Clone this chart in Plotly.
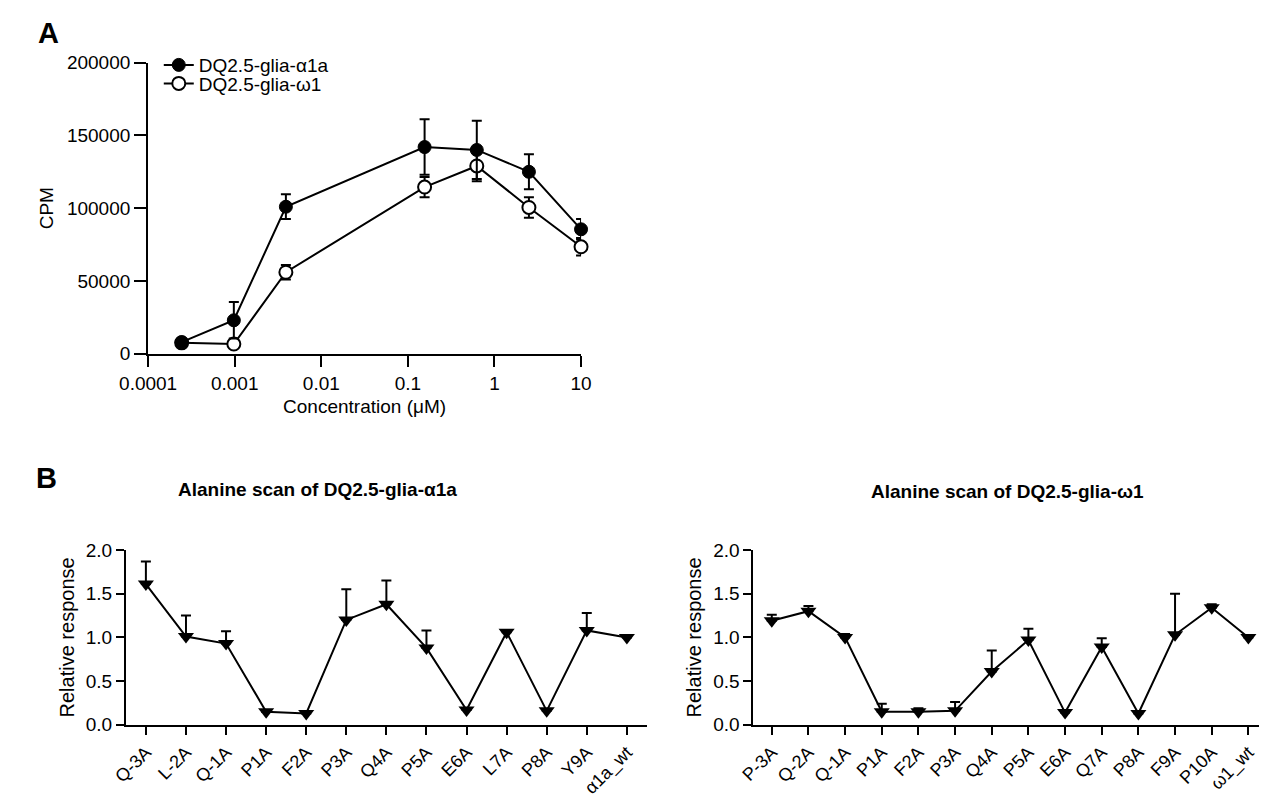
import plotly.graph_objects as go

FONT = "Liberation Sans, Arial, sans-serif"
W, H = 1270, 804

# ---------------- Panel A data ----------------
conc = [0.000244, 0.000977, 0.0039, 0.156, 0.625, 2.5, 10]
alpha_cpm = [8000, 23000, 101000, 142000, 140000, 125000, 85500]
alpha_err = [1500, 12500, 8500, 19000, 20000, 12000, 7000]
omega_cpm = [7500, 6700, 56000, 114500, 129000, 100500, 73500]
omega_err = [1500, 2000, 5000, 7000, 10500, 7000, 6000]
x_tickvals = [0.0001, 0.001, 0.01, 0.1, 1, 10]
x_ticktext = ["0.0001", "0.001", "0.01", "0.1", "1", "10"]
y_tickvals_a = [0, 50000, 100000, 150000, 200000]

# ---------------- Panel B data ----------------
alpha_cats = ["Q-3A", "L-2A", "Q-1A", "P1A", "F2A", "P3A", "Q4A", "P5A",
              "E6A", "L7A", "P8A", "Y9A", "α1a_wt"]
alpha_rel = [1.61, 1.01, 0.93, 0.15, 0.13, 1.20, 1.38, 0.88, 0.17, 1.06, 0.16, 1.08, 1.00]
alpha_rel_err = [0.26, 0.24, 0.14, 0.0, 0.0, 0.35, 0.27, 0.20, 0.0, 0.02, 0.0, 0.20, 0.0]

omega_cats = ["P-3A", "Q-2A", "Q-1A", "P1A", "F2A", "P3A", "Q4A", "P5A",
              "E6A", "Q7A", "P8A", "F9A", "P10A", "ω1_wt"]
omega_rel = [1.19, 1.30, 1.00, 0.15, 0.15, 0.16, 0.61, 0.97, 0.14, 0.89, 0.13, 1.03, 1.34, 1.00]
omega_rel_err = [0.07, 0.06, 0.04, 0.09, 0.04, 0.10, 0.24, 0.13, 0.0, 0.10, 0.0, 0.47, 0.04, 0.0]

def px_x(p):
    return p / W

def px_y(p):
    return 1 - p / H

fig = go.Figure()

fig.add_trace(go.Scatter(
    x=conc, y=omega_cpm, mode="lines+markers", name="DQ2.5-glia-ω1",
    line=dict(color="black", width=2), cliponaxis=False,
    marker=dict(symbol="circle", size=13, color="white", line=dict(color="black", width=2)),
    error_y=dict(type="data", array=omega_err, color="black", thickness=2, width=5),
    xaxis="x", yaxis="y", legend="legend2",
))
fig.add_trace(go.Scatter(
    x=conc, y=alpha_cpm, mode="lines+markers", name="DQ2.5-glia-α1a",
    line=dict(color="black", width=2), cliponaxis=False,
    marker=dict(symbol="circle", size=13, color="black", line=dict(color="black", width=1)),
    error_y=dict(type="data", array=alpha_err, color="black", thickness=2, width=5),
    xaxis="x", yaxis="y", legend="legend",
))

fig.add_trace(go.Scatter(
    x=alpha_cats, y=alpha_rel, mode="lines+markers", showlegend=False,
    line=dict(color="black", width=2), cliponaxis=False,
    marker=dict(symbol="triangle-down", size=14, color="black"),
    error_y=dict(type="data", symmetric=False, array=alpha_rel_err,
                 arrayminus=[0] * len(alpha_rel_err), color="black", thickness=2, width=5),
    xaxis="x2", yaxis="y2",
))
fig.add_trace(go.Scatter(
    x=omega_cats, y=omega_rel, mode="lines+markers", showlegend=False,
    line=dict(color="black", width=2), cliponaxis=False,
    marker=dict(symbol="triangle-down", size=14, color="black"),
    error_y=dict(type="data", symmetric=False, array=omega_rel_err,
                 arrayminus=[0] * len(omega_rel_err), color="black", thickness=2, width=5),
    xaxis="x3", yaxis="y3",
))

axis_common = dict(showline=True, linecolor="black", linewidth=2, ticks="outside",
                   tickcolor="black", tickwidth=2, showgrid=False, zeroline=False,
                   mirror=False)

fig.update_layout(
    width=W, height=H, margin=dict(l=0, r=0, t=0, b=0),
    paper_bgcolor="white", plot_bgcolor="white",
    font=dict(family=FONT, color="black", size=19),
    xaxis=dict(**axis_common, type="log", range=[-4, 1], domain=[px_x(123), px_x(570)],
               tickvals=x_tickvals, ticktext=x_ticktext, ticklen=11,
               tickfont=dict(size=19), anchor="y",
               title=dict(text="Concentration (μM)", font=dict(size=19), standoff=7)),
    yaxis=dict(**axis_common, range=[0, 200000], domain=[px_y(353), px_y(54)],
               tickvals=y_tickvals_a, tickformat="d", ticklen=12, tickfont=dict(size=19),
               anchor="x",
               title=dict(text="CPM", font=dict(size=19), standoff=8)),
    xaxis2=dict(**axis_common, type="category", range=[-0.5, 12.5],
                domain=[px_x(100), px_x(638)], tickangle=-45, ticklen=8,
                tickfont=dict(size=18), anchor="y2"),
    yaxis2=dict(**axis_common, range=[0, 2], domain=[px_y(734), px_y(554.5)],
                tickvals=[0, 0.5, 1, 1.5, 2], tickformat=".1f", ticklen=8,
                tickfont=dict(size=19), anchor="x2",
                title=dict(text="Relative response", font=dict(size=20), standoff=6)),
    xaxis3=dict(**axis_common, type="category", range=[-0.5, 13.29],
                domain=[px_x(748), 1.0], tickangle=-45, ticklen=8,
                tickfont=dict(size=18), anchor="y3"),
    yaxis3=dict(**axis_common, range=[0, 2], domain=[px_y(734), px_y(554.5)],
                tickvals=[0, 0.5, 1, 1.5, 2], tickformat=".1f", ticklen=8,
                tickfont=dict(size=19), anchor="x3",
                title=dict(text="Relative response", font=dict(size=20), standoff=6)),
    legend=dict(x=px_x(134), y=px_y(37), xanchor="left", yanchor="top",
                font=dict(size=19), bgcolor="rgba(0,0,0,0)", itemwidth=30,
                tracegroupgap=0),
    legend2=dict(x=px_x(134), y=px_y(56), xanchor="left", yanchor="top",
                 font=dict(size=19), bgcolor="rgba(0,0,0,0)", itemwidth=30,
                 tracegroupgap=0),
    annotations=[
        dict(text="<b>A</b>", x=px_x(7), y=px_y(5), xref="paper", yref="paper",
             xanchor="left", yanchor="top", showarrow=False, font=dict(size=29)),
        dict(text="<b>B</b>", x=px_x(5), y=px_y(462), xref="paper", yref="paper",
             xanchor="left", yanchor="top", showarrow=False, font=dict(size=29)),
        dict(text="<b>Alanine scan of DQ2.5-glia-α1a</b>", x=px_x(298), y=px_y(492),
             xref="paper", yref="paper", xanchor="center", yanchor="middle",
             showarrow=False, font=dict(size=19)),
        dict(text="<b>Alanine scan of DQ2.5-glia-ω1</b>", x=px_x(1010), y=px_y(494),
             xref="paper", yref="paper", xanchor="center", yanchor="middle",
             showarrow=False, font=dict(size=19)),
    ],
)

fig.write_html("out.html", config={"displayModeBar": False},
               post_script="document.body.style.margin='0';")
